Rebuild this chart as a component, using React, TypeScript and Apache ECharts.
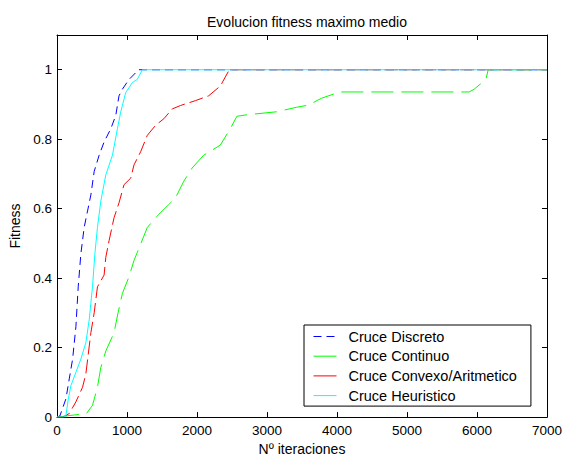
import React, { useEffect, useRef } from "react";
import * as echarts from "echarts";

const seriesNames = ["Cruce Discreto", "Cruce Continuo", "Cruce Convexo/Aritmetico", "Cruce Heuristico"];
const seriesColors = ["#0000ff", "#00ff00", "#ff0000", "#00ffff"];

const discX = [0, 40, 81, 128, 175, 223, 270, 303, 341, 388, 436, 484, 531, 602, 673, 768, 839, 886, 934, 1029, 1147, 1165, 7000];
const discY = [0, 0.003, 0.026, 0.053, 0.11, 0.167, 0.26, 0.375, 0.47, 0.546, 0.593, 0.64, 0.707, 0.754, 0.792, 0.83, 0.868, 0.925, 0.944, 0.972, 0.996, 1, 1];

const contX = [0, 200, 420, 507, 578, 626, 697, 815, 872, 934, 1029, 1100, 1195, 1290, 1456, 1598, 1693, 1811, 1930, 2096, 2333, 2475, 2570, 2700, 3139, 3423, 3589, 3779, 4040, 5889, 5960, 6127, 6160, 7000];
const contY = [0, 0.005, 0.01, 0.034, 0.086, 0.143, 0.19, 0.243, 0.3, 0.356, 0.404, 0.451, 0.498, 0.546, 0.584, 0.612, 0.631, 0.679, 0.717, 0.754, 0.783, 0.83, 0.866, 0.87, 0.879, 0.892, 0.898, 0.918, 0.936, 0.936, 0.944, 0.972, 1, 1];

const convX = [0, 85, 175, 270, 365, 412, 484, 531, 578, 673, 697, 744, 815, 886, 957, 1053, 1100, 1195, 1290, 1408, 1527, 1645, 1764, 1977, 2167, 2333, 2451, 2465, 7000];
const convY = [0, 0, 0.01, 0.044, 0.086, 0.124, 0.243, 0.3, 0.375, 0.409, 0.46, 0.508, 0.574, 0.617, 0.669, 0.688, 0.726, 0.764, 0.811, 0.84, 0.859, 0.887, 0.897, 0.911, 0.925, 0.953, 0.996, 1, 1];

const heurX = [0, 100, 128, 160, 199, 270, 341, 412, 460, 507, 541, 578, 626, 697, 792, 863, 910, 981, 1077, 1147, 1219, 7000];
const heurY = [0, 0, 0.005, 0.05, 0.091, 0.129, 0.167, 0.214, 0.28, 0.375, 0.47, 0.546, 0.622, 0.697, 0.754, 0.83, 0.878, 0.934, 0.963, 0.972, 1, 1];

const xTicks = { min: 0, max: 7000, interval: 1000 };
const yTicks = { min: 0, max: 1.1, interval: 0.2 };

const FONT = "'Liberation Sans', Arial, sans-serif";

function zip(xs: number[], ys: number[]) {
  return xs.map((x, i) => [x, ys[i]]);
}

export default function App() {
  const ref = useRef<HTMLDivElement>(null);
  useEffect(() => {
    if (!ref.current) return;
    const chart = echarts.init(ref.current, undefined, { renderer: "svg" });
    const dashes: any[] = [[8, 5], [22, 8], [14, 5], "solid"];
    const datas = [zip(discX, discY), zip(contX, contY), zip(convX, convY), zip(heurX, heurY)];
    const axisLine = { show: true, onZero: false, lineStyle: { color: "#000", width: 1 } };
    const tick = { show: true, inside: true, length: 5, lineStyle: { color: "#000" } };
    chart.setOption({
      animation: false,
      backgroundColor: "#fff",
      title: {
        text: "Evolucion fitness maximo medio",
        left: 302,
        top: 10,
        textAlign: "center",
        textStyle: { fontFamily: FONT, fontSize: 14, fontWeight: "normal", color: "#000" },
      },
      grid: { left: 56, right: 17, top: 35, bottom: 39, containLabel: false },
      legend: {
        orient: "vertical",
        left: 304,
        top: 325,
        padding: [4, 14, 3, 9],
        itemWidth: 23,
        itemHeight: 14,
        itemGap: 4.7,
        borderColor: "#000",
        borderWidth: 1,
        backgroundColor: "#fff",
        itemStyle: { opacity: 0 },
        textStyle: { fontFamily: FONT, fontSize: 14.5, color: "#000", padding: [0, 0, 0, 7] },
        data: seriesNames.map((n, i) => ({
          name: n,
          itemStyle: { opacity: 0 },
          lineStyle: { type: i === 0 ? [8, 5] : "solid", width: 1, color: seriesColors[i] },
        })),
      },
      xAxis: [
        {
          type: "value",
          ...xTicks,
          position: "bottom",
          axisLine,
          axisTick: tick,
          splitLine: { show: false },
          axisLabel: { color: "#000", fontFamily: FONT, fontSize: 13.5, margin: 6, formatter: (v: number) => String(v) },
          name: "Nº iteraciones",
          nameLocation: "middle",
          nameGap: 24,
          nameTextStyle: { fontFamily: FONT, fontSize: 14, color: "#000" },
        },
        {
          type: "value",
          ...xTicks,
          position: "top",
          axisLine,
          axisTick: tick,
          splitLine: { show: false },
          axisLabel: { show: false },
        },
      ],
      yAxis: [
        {
          type: "value",
          ...yTicks,
          position: "left",
          axisLine,
          axisTick: tick,
          splitLine: { show: false },
          axisLabel: {
            color: "#000",
            fontFamily: FONT,
            fontSize: 13.5,
            margin: 5,
            showMaxLabel: false,
            formatter: (v: number) => (v > 1.05 ? "" : String(Math.round(v * 10) / 10)),
          },
          name: "Fitness",
          nameLocation: "middle",
          nameGap: 35,
          nameTextStyle: { fontFamily: FONT, fontSize: 14, color: "#000" },
        },
        {
          type: "value",
          ...yTicks,
          position: "right",
          axisLine,
          axisTick: tick,
          splitLine: { show: false },
          axisLabel: { show: false },
        },
      ],
      series: seriesNames.map((n, i) => ({
        name: n,
        type: "line",
        data: datas[i],
        symbol: "none",
        showSymbol: false,
        z: 2 + i,
        xAxisIndex: 0,
        yAxisIndex: 0,
        lineStyle: { color: seriesColors[i], width: 1, type: dashes[i] },
        itemStyle: { color: seriesColors[i] },
      })),
    });
    return () => chart.dispose();
  }, []);
  return <div ref={ref} style={{ position: "fixed", left: 0, top: 0, width: 565, height: 461 }} />;
}
